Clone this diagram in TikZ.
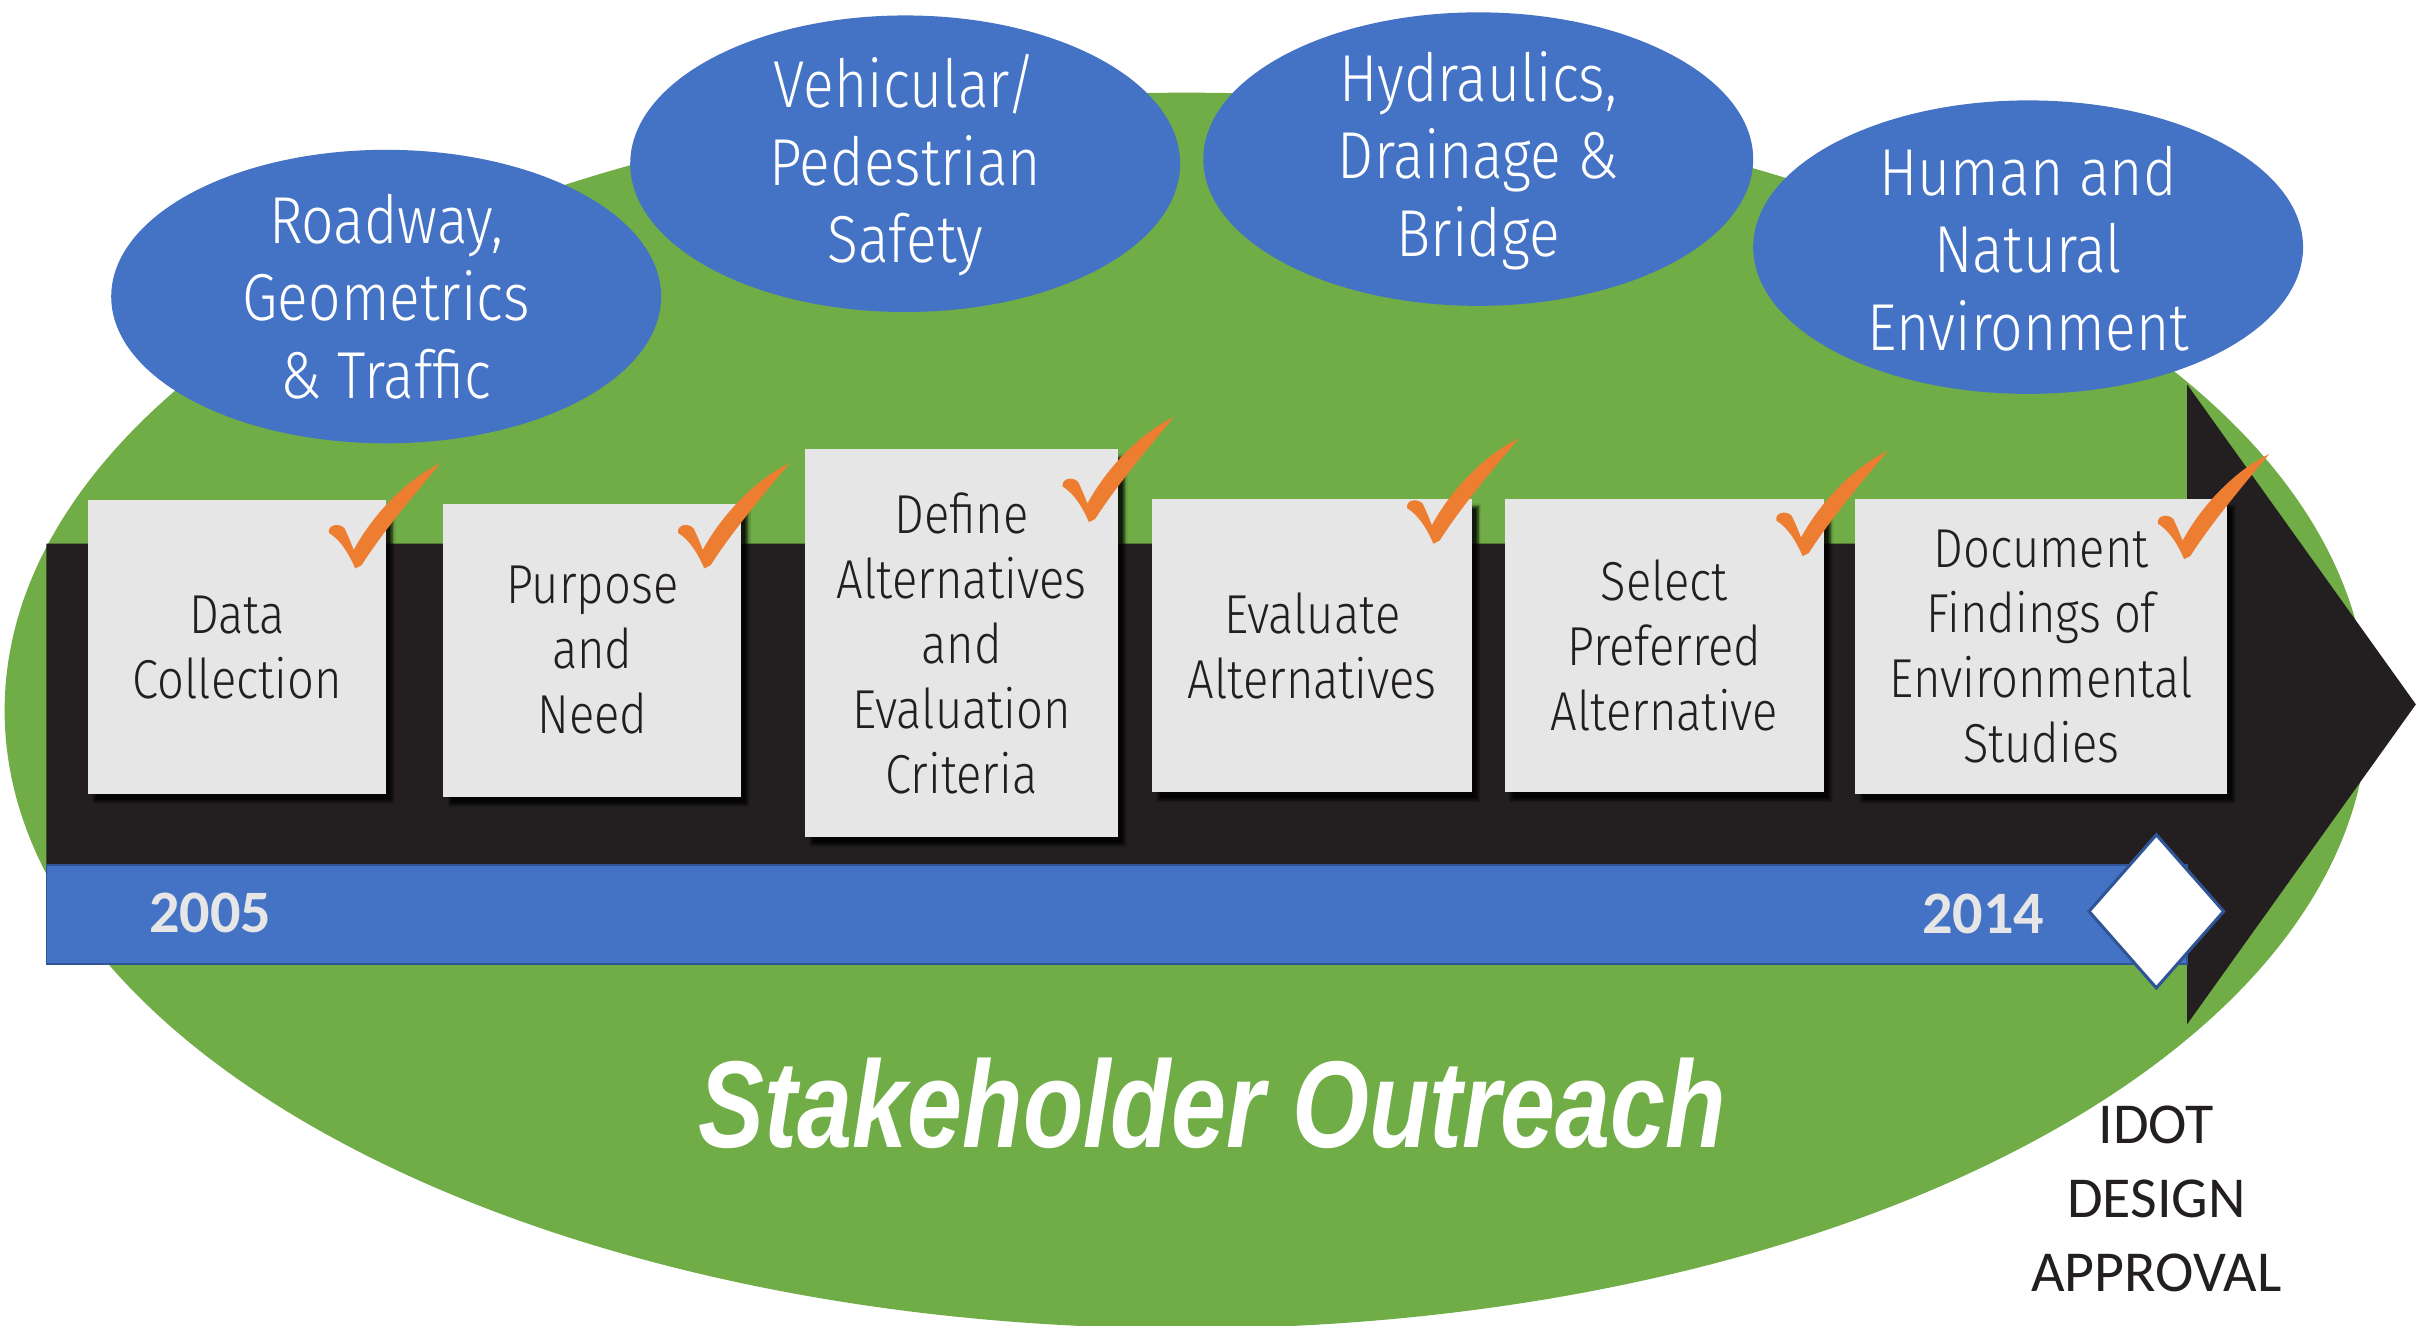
\documentclass[tikz,border=0pt]{standalone}
\usepackage{fontspec}
\usetikzlibrary{shapes.geometric,shadows.blur}
\newfontfamily\lightsans{Fira Sans Light}[FakeStretch=0.86]
\newfontfamily\labelsans{Carlito}
\newfontfamily\headsans{Liberation Sans}[FakeStretch=0.8]
\definecolor{leaf}{HTML}{70AD47}
\definecolor{sky}{HTML}{4472C4}
\definecolor{navy}{HTML}{2F5597}
\definecolor{ink}{HTML}{231F20}
\definecolor{paper}{HTML}{E6E6E6}
\definecolor{tick}{HTML}{ED7D31}
\definecolor{yeartext}{HTML}{E7E6E6}
\begin{document}
\begin{tikzpicture}[x=1pt,y=-1pt,
  topictext/.style={text=white, align=center, inner sep=0pt,
    font=\lightsans\fontsize{43}{50}\selectfont},
  stepcard/.style={rectangle, fill=paper, inner sep=0pt, align=center, text=ink,
    font=\lightsans\fontsize{35.5}{42}\selectfont,
    blur shadow={shadow xshift=4pt, shadow yshift=-5pt, shadow blur steps=6, shadow opacity=85}},
  yearlabel/.style={text=yeartext, inner sep=0pt, font=\labelsans\bfseries\fontsize{39}{45}\selectfont},
  donemark/.pic={
    \fill[tick] (0,0) .. controls (-4,-9) and (-9,-18) .. (-17,-23)
      .. controls (-18,-28) and (-11,-30) .. (-7,-26)
      .. controls (-5,-22) and (-3,-17) .. (-1,-12)
      .. controls (12,-36) and (34,-58) .. (55,-68)
      .. controls (40,-50) and (18,-24) .. (4,-2) -- cycle;
  }
]
\useasboundingbox (0,0) rectangle (1568,858);
\fill[white] (0,0) rectangle (1568,858);

% outreach field
\fill[leaf] (768,460) ellipse [x radius=765, y radius=400];

% discipline bubbles
\fill[sky] (250,192) ellipse [x radius=178, y radius=95];
\fill[sky] (586,106) ellipse [x radius=178, y radius=96];
\fill[sky] (957,103) ellipse [x radius=178, y radius=95];
\fill[sky] (1313,160) ellipse [x radius=178, y radius=95];
\node[topictext] (roadway) at (250,192) {Roadway,\\Geometrics\\\& Traffic};
\node[topictext] (safety) at (586,107) {Vehicular/\\Pedestrian\\Safety};
\node[topictext] (hydro) at (957,104) {Hydraulics,\\Drainage \&\\Bridge};
\node[topictext] (enviro) at (1313,161) {Human and\\Natural\\Environment};

% timeline arrow
\fill[ink] (30,352) -- (1416,352) -- (1416,249) -- (1564,456) -- (1416,663)
  -- (1416,624) -- (30,624) -- cycle;
\draw[navy, fill=sky, line width=1pt] (30,560) rectangle (1416,624);
\node[diamond, draw=navy, fill=white, line width=2pt, minimum width=88pt,
  minimum height=100pt, inner sep=0pt] (approvalmark) at (1396,590) {};
\node[yearlabel] (start) at (136,591) {2005};
\node[yearlabel] (finish) at (1284,592) {2014};

% process steps
\node[stepcard, minimum width=193pt, minimum height=190pt] (s1) at (153.5,419) {Data\\Collection};
\node[stepcard, minimum width=193pt, minimum height=190pt] (s2) at (383.5,421) {Purpose\\and\\Need};
\node[stepcard, minimum width=203pt, minimum height=251pt] (s3) at (622.5,416.5) {Define\\Alternatives\\and\\Evaluation\\Criteria};
\node[stepcard, minimum width=207pt, minimum height=190pt] (s4) at (849.5,418) {Evaluate\\Alternatives};
\node[stepcard, minimum width=207pt, minimum height=190pt] (s5) at (1077.5,418) {Select\\Preferred\\Alternative};
\node[stepcard, minimum width=241pt, minimum height=191pt] (s6) at (1321.5,418.5) {Document\\Findings of\\Environmental\\Studies};

% completion ticks
\pic at (230,368) {donemark};
\pic at (456,368) {donemark};
\pic at (705,338) {donemark};
\pic at (928,352) {donemark};
\pic at (1167,360) {donemark};
\pic at (1414,362) {donemark};

% captions
\node[anchor=base, inner sep=0pt, text=white,
  font=\headsans\bfseries\itshape\fontsize{80}{90}\selectfont] (outreach) at (785,743) {Stakeholder Outreach};
\node[align=center, inner sep=0pt, text=ink,
  font=\labelsans\fontsize{37.5}{48}\selectfont] (approval) at (1396,776) {IDOT\\DESIGN\\APPROVAL};
\end{tikzpicture}
\end{document}
